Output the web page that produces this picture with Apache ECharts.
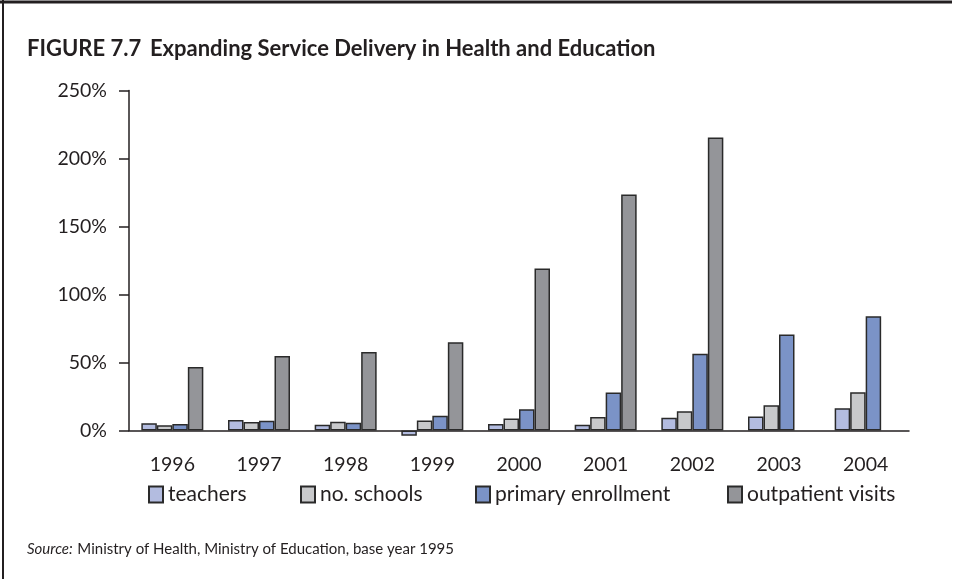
<!DOCTYPE html>
<html>
<head>
<meta charset="utf-8">
<script src="https://cdn.jsdelivr.net/npm/echarts@6/dist/echarts.min.js"></script>
<style>
html,body{margin:0;padding:0;background:#fff;}
#c{width:954px;height:579px;}
</style>
</head>
<body>
<div id="c"></div>
<script>
const years = ['1996','1997','1998','1999','2000','2001','2002','2003','2004'];
const teachers = [5.4, 7.7, 4.2, -3.9, 4.7, 4.2, 9.3, 10.3, 16.4];
const schools = [3.9, 6.2, 6.4, 7.4, 8.9, 10.0, 14.2, 18.6, 28.2];
const enrollment = [4.7, 7.2, 5.7, 10.9, 15.6, 28.0, 56.4, 70.6, 84.0];
const outpatient = [46.6, 54.7, 57.7, 64.9, 119.2, 173.5, 215.4, null, null];
const seriesNames = ['teachers','no. schools','primary enrollment','outpatient visits'];
const yTicks = [0, 50, 100, 150, 200, 250];

const colors = ['#b3bce0','#c8c9cb','#7b93c7','#949599'];
const FONT = 'Lato';
const chart = echarts.init(document.getElementById('c'));
const dataSets = [teachers, schools, enrollment, outpatient];
const legendLeft = [143, 295, 470, 722];

chart.setOption({
  animation: false,
  textStyle: {fontFamily: FONT},
  title: [{
    left: 22, top: 33,
    text: '{a|FIGURE 7.7}  {b|Expanding Service Delivery in Health and Education}',
    textStyle: {
      rich: {
        a: {fontFamily: FONT, fontSize: 22, fontWeight: 'bold', color: '#231f20'},
        b: {fontFamily: FONT, fontSize: 22, fontWeight: 'bold', color: '#231f20'}
      }
    }
  }, {
    left: 22, top: 535,
    text: '{i|Source:} {n|Ministry of Health, Ministry of Education, base year 1995}',
    textStyle: {
      fontWeight: 'normal',
      rich: {
        i: {fontFamily: FONT, fontSize: 15, fontStyle: 'italic', fontWeight: 'normal', color: '#231f20'},
        n: {fontFamily: FONT, fontSize: 15, fontWeight: 'normal', color: '#231f20'}
      }
    }
  }],
  legend: seriesNames.map((n, i) => ({
    data: [{name: n, icon: 'rect'}],
    left: legendLeft[i], top: 479,
    itemWidth: 14, itemHeight: 16, itemGap: 6,
    textStyle: {fontFamily: FONT, fontSize: 21, color: '#231f20', padding: [0,0,0,0]}
  })),
  grid: {left: 129, right: 45, top: 90.5, bottom: 148.5},
  xAxis: {
    type: 'category', data: years,
    axisLine: {lineStyle: {color: '#231f20', width: 1.5}},
    axisTick: {length: 10, lineStyle: {color: '#231f20', width: 1.5}},
    axisLabel: {fontFamily: FONT, fontSize: 19.5, color: '#231f20', margin: 24}
  },
  yAxis: {
    type: 'value', min: 0, max: 250, interval: 50,
    axisLine: {show: true, lineStyle: {color: '#231f20', width: 1.5}},
    axisTick: {show: true, length: 10, lineStyle: {color: '#231f20', width: 1.5}},
    splitLine: {show: false},
    axisLabel: {fontFamily: FONT, fontSize: 19.5, color: '#231f20', margin: 22,
      formatter: v => yTicks.includes(v) ? v + '%' : ''}
  },
  series: seriesNames.map((n, i) => ({
    name: n, type: 'bar', data: dataSets[i],
    barWidth: 15.5, barGap: '0%', clip: false,
    itemStyle: {color: colors[i], borderColor: '#2a2a2a', borderWidth: 1.5}
  })),
  graphic: [
    {type: 'line', shape: {x1: 0, y1: 2, x2: 952, y2: 2}, style: {stroke: '#231f20', lineWidth: 3}},
    {type: 'line', shape: {x1: 3, y1: 0, x2: 3, y2: 579}, style: {stroke: '#231f20', lineWidth: 2}}
  ]
});
</script>
</body>
</html>
